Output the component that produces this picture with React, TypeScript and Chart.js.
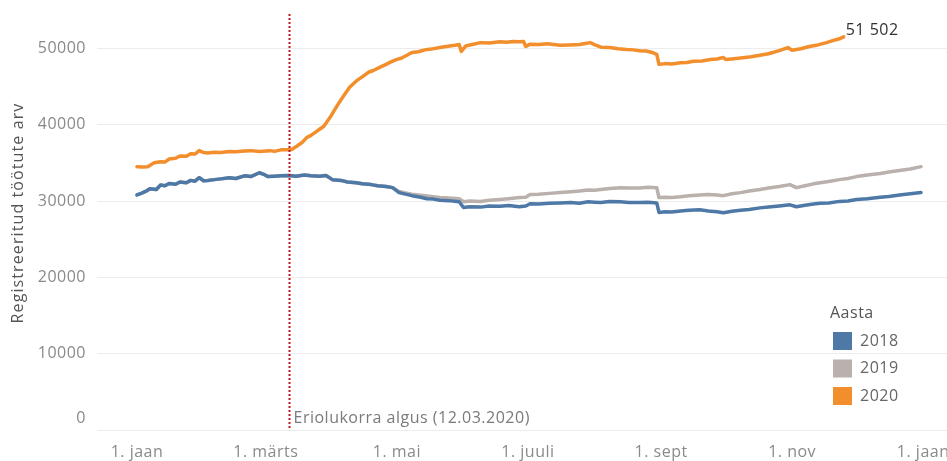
import React, { useEffect, useRef } from "react";
import { Chart, registerables } from "chart.js";

Chart.register(...registerables);

// Day of year (0 = 1. jaan), leap-year calendar
const TICK_DAYS = [0, 60, 121, 182, 244, 305, 366];
const TICK_LABELS = ["1. jaan", "1. märts", "1. mai", "1. juuli", "1. sept", "1. nov", "1. jaan"];
const Y_TICKS = [0, 10000, 20000, 30000, 40000, 50000];

const SERIES_NAMES = ["2018", "2019", "2020"];
const SERIES_COLORS = ["#4e79a7", "#bab0ac", "#f28e2b"];

const DAYS_2018 = [0, 2, 4, 6, 9, 11, 13, 15, 18, 20, 23, 25, 27, 29, 31, 33, 36, 39, 43, 46, 50, 53, 57, 59, 61, 64, 67, 71, 74, 78, 81, 85, 88, 91, 95, 98, 102, 105, 109, 112, 116, 119, 122, 125, 128, 132, 135, 138, 141, 145, 150, 152, 155, 160, 164, 169, 173, 178, 181, 183, 187, 192, 197, 202, 206, 210, 213, 216, 220, 225, 229, 234, 238, 242, 243, 246, 249, 253, 257, 262, 266, 270, 273, 277, 281, 285, 290, 294, 299, 304, 307, 311, 315, 318, 322, 327, 331, 335, 340, 346, 350, 355, 360, 365];
const VALUES_2018 = [30800, 31000, 31250, 31600, 31500, 32100, 32000, 32300, 32200, 32500, 32400, 32700, 32600, 33050, 32650, 32700, 32800, 32900, 33050, 32950, 33300, 33200, 33700, 33500, 33200, 33250, 33300, 33350, 33250, 33400, 33300, 33250, 33350, 32800, 32700, 32500, 32400, 32250, 32150, 32000, 31900, 31750, 31100, 30900, 30700, 30500, 30300, 30250, 30100, 30050, 29900, 29150, 29250, 29200, 29350, 29300, 29400, 29250, 29350, 29650, 29600, 29700, 29750, 29800, 29700, 29900, 29850, 29800, 29950, 29900, 29800, 29800, 29850, 29750, 28500, 28600, 28550, 28700, 28800, 28850, 28700, 28600, 28450, 28650, 28800, 28900, 29100, 29200, 29350, 29500, 29250, 29450, 29600, 29700, 29750, 29950, 30000, 30200, 30300, 30500, 30600, 30800, 30950, 31100];

const DAYS_2019 = [0, 2, 4, 6, 9, 11, 13, 15, 18, 20, 23, 25, 27, 29, 31, 33, 36, 39, 43, 46, 50, 53, 57, 59, 61, 64, 67, 71, 74, 78, 81, 85, 88, 91, 95, 98, 102, 105, 109, 112, 116, 119, 122, 125, 128, 131, 135, 138, 141, 145, 150, 152, 155, 160, 164, 169, 173, 178, 181, 183, 187, 192, 197, 202, 206, 210, 213, 216, 220, 225, 229, 234, 238, 242, 243, 246, 249, 253, 257, 262, 266, 270, 273, 277, 281, 285, 290, 294, 299, 304, 307, 311, 315, 318, 322, 327, 331, 335, 340, 346, 350, 355, 360, 365];
const VALUES_2019 = [30800, 31000, 31250, 31600, 31500, 32100, 32000, 32300, 32200, 32500, 32400, 32700, 32600, 33050, 32650, 32700, 32800, 32900, 33050, 32950, 33300, 33200, 33700, 33500, 33200, 33250, 33300, 33350, 33250, 33400, 33300, 33250, 33350, 32800, 32700, 32500, 32400, 32250, 32150, 32000, 31900, 31750, 31250, 31050, 30900, 30800, 30650, 30550, 30450, 30400, 30300, 29900, 30000, 29950, 30100, 30200, 30300, 30450, 30500, 30850, 30900, 31000, 31100, 31200, 31300, 31450, 31400, 31500, 31650, 31750, 31700, 31700, 31800, 31750, 30450, 30500, 30450, 30550, 30700, 30800, 30850, 30800, 30700, 30950, 31100, 31300, 31500, 31700, 31900, 32150, 31750, 32000, 32250, 32400, 32550, 32800, 32950, 33200, 33400, 33600, 33800, 34000, 34200, 34500];

const DAYS_2020 = [0, 3, 5, 8, 11, 13, 15, 18, 20, 23, 25, 27, 29, 31, 33, 36, 39, 43, 46, 50, 53, 57, 62, 64, 67, 70, 72, 74, 77, 79, 81, 83, 85, 87, 90, 93, 96, 99, 102, 105, 108, 110, 113, 116, 118, 121, 123, 125, 128, 131, 134, 137, 141, 144, 148, 150, 151, 153, 156, 160, 164, 169, 172, 175, 178, 180, 181, 183, 187, 191, 194, 197, 201, 206, 208, 211, 213, 216, 220, 224, 228, 231, 234, 237, 240, 242, 243, 246, 249, 253, 256, 259, 263, 267, 270, 273, 274, 278, 283, 286, 290, 294, 299, 303, 305, 309, 313, 317, 321, 325, 327, 329];
const VALUES_2020 = [34500, 34450, 34500, 35000, 35150, 35100, 35500, 35600, 35900, 35850, 36200, 36150, 36600, 36350, 36300, 36400, 36350, 36500, 36450, 36550, 36600, 36500, 36600, 36500, 36700, 36700, 36750, 37100, 37700, 38300, 38600, 39000, 39400, 39800, 41000, 42400, 43700, 44900, 45700, 46300, 46900, 47100, 47500, 47900, 48200, 48550, 48700, 49000, 49450, 49550, 49800, 49900, 50100, 50250, 50400, 50500, 49600, 50300, 50500, 50750, 50700, 50850, 50800, 50900, 50850, 50900, 50250, 50550, 50500, 50600, 50500, 50400, 50450, 50500, 50600, 50750, 50500, 50150, 50100, 49950, 49850, 49800, 49700, 49650, 49450, 49200, 47900, 48000, 47950, 48100, 48150, 48300, 48350, 48550, 48600, 48800, 48550, 48650, 48800, 48900, 49100, 49300, 49700, 50100, 49750, 49950, 50250, 50450, 50750, 51100, 51250, 51502];

const LOCKDOWN_DAY = 71;
const LOCKDOWN_LABEL = "Eriolukorra algus (12.03.2020)";
const LAST_LABEL = "51 502";
const LEGEND_TITLE = "Aasta";
const Y_TITLE = "Registreeritud töötute arv";

const FONT = "'Open Sans', sans-serif";
const FONT_SIZE = 16;
const LETTER_SPACING = "0.5px";
const TICK_COLOR = "#8a8a8a";

function pts(days: number[], vals: number[]) {
  return days.map((d, i) => ({ x: d, y: vals[i] }));
}

const spacingPlugin = {
  id: "spacing",
  beforeLayout(chart: any) {
    chart.ctx.letterSpacing = LETTER_SPACING;
  },
  beforeDraw(chart: any) {
    chart.ctx.letterSpacing = LETTER_SPACING;
  },
};

const annotationPlugin = {
  id: "annotations",
  afterDatasetsDraw(chart: any) {
    const { ctx, chartArea, scales } = chart;
    const x = scales.x;
    const y = scales.y;
    const px = Math.round(x.getPixelForValue(LOCKDOWN_DAY)) + 0.5;
    ctx.save();
    ctx.letterSpacing = LETTER_SPACING;
    ctx.strokeStyle = "#c4161c";
    ctx.lineWidth = 2;
    ctx.setLineDash([2, 2]);
    ctx.beginPath();
    ctx.moveTo(px, chartArea.top);
    ctx.lineTo(px, chartArea.bottom);
    ctx.stroke();
    ctx.setLineDash([]);

    ctx.font = `${FONT_SIZE}px ${FONT}`;
    ctx.textBaseline = "middle";
    ctx.textAlign = "left";
    ctx.fillStyle = "#7a7a7a";
    ctx.fillText(LOCKDOWN_LABEL, px + 4, chartArea.bottom - 12);

    // zero tick label sits just above the baseline
    ctx.textAlign = "right";
    ctx.fillStyle = TICK_COLOR;
    ctx.fillText(String(Y_TICKS[0]), chartArea.left - 11, y.getPixelForValue(Y_TICKS[0]) - 12);
    ctx.textAlign = "left";

    const meta = chart.getDatasetMeta(2);
    const last = meta.data[meta.data.length - 1];
    ctx.fillStyle = "#333333";
    ctx.fillText(LAST_LABEL, last.x + 2, last.y - 6);

    // legend
    const lx = chartArea.right - 114;
    const ly = chartArea.bottom - 117;
    ctx.fillStyle = "#555555";
    ctx.fillText(LEGEND_TITLE, lx - 3, ly);
    SERIES_NAMES.forEach((name, i) => {
      const by = ly + 19 + i * 27.5;
      ctx.fillStyle = SERIES_COLORS[i];
      ctx.fillRect(lx, by, 19, 18);
      ctx.fillStyle = "#666666";
      ctx.fillText(name, lx + 27, by + 9);
    });

    // y-axis title
    ctx.save();
    ctx.translate(18, 213);
    ctx.rotate(-Math.PI / 2);
    ctx.letterSpacing = "1.1px";
    ctx.textAlign = "center";
    ctx.fillStyle = "#555555";
    ctx.fillText(Y_TITLE, 0, 0);
    ctx.restore();

    ctx.restore();
  },
};

export default function App() {
  const ref = useRef<HTMLCanvasElement | null>(null);

  useEffect(() => {
    if (!ref.current) return;
    Chart.defaults.font.family = FONT;
    const mk = (i: number, data: any[]) => ({
      label: SERIES_NAMES[i],
      data,
      borderColor: SERIES_COLORS[i],
      backgroundColor: SERIES_COLORS[i],
      borderWidth: 3.5,
      pointRadius: 0,
      tension: 0,
      borderJoinStyle: "round" as const,
      borderCapStyle: "round" as const,
    });
    const chart = new Chart(ref.current, {
      type: "line",
      data: {
        datasets: [
          mk(0, pts(DAYS_2018, VALUES_2018)),
          mk(1, pts(DAYS_2019, VALUES_2019)),
          mk(2, pts(DAYS_2020, VALUES_2020)),
        ],
      },
      options: {
        animation: false,
        responsive: true,
        maintainAspectRatio: false,
        layout: { padding: { top: 14, left: 0, right: 0, bottom: 0 } },
        plugins: { legend: { display: false }, tooltip: { enabled: false } },
        scales: {
          x: {
            type: "linear",
            min: -18.6,
            max: 377.1,
            grid: { display: false, drawTicks: false },
            border: { display: false },
            afterBuildTicks: (axis: any) => {
              axis.ticks = TICK_DAYS.map((v) => ({ value: v }));
            },
            afterFit: (axis: any) => {
              axis.height = 31;
              axis.paddingLeft = 0;
              axis.paddingRight = 0;
            },
            ticks: {
              autoSkip: false,
              maxRotation: 0,
              padding: 13,
              color: TICK_COLOR,
              font: { size: FONT_SIZE, family: FONT },
              callback: (v: any) => {
                const idx = TICK_DAYS.indexOf(Number(v));
                return idx >= 0 ? TICK_LABELS[idx] : "";
              },
            },
          },
          y: {
            type: "linear",
            min: 0,
            max: 54500,
            afterBuildTicks: (axis: any) => {
              axis.ticks = Y_TICKS.map((v) => ({ value: v }));
            },
            afterFit: (axis: any) => {
              axis.width = 97;
              axis.paddingTop = 0;
              axis.paddingBottom = 0;
            },
            grid: { color: "#ececec", lineWidth: 1, drawTicks: false },
            border: { display: false },
            ticks: {
              padding: 11,
              color: TICK_COLOR,
              font: { size: FONT_SIZE, family: FONT },
              callback: (v: any) => (Number(v) === Y_TICKS[0] ? "" : String(v)),
            },
            title: { display: false },
          },
        },
      },
      plugins: [spacingPlugin, annotationPlugin],
    });
    return () => chart.destroy();
  }, []);

  return (
    <div style={{ position: "absolute", left: 0, top: 0, width: 947, height: 461, background: "#fff" }}>
      <canvas ref={ref} />
    </div>
  );
}
